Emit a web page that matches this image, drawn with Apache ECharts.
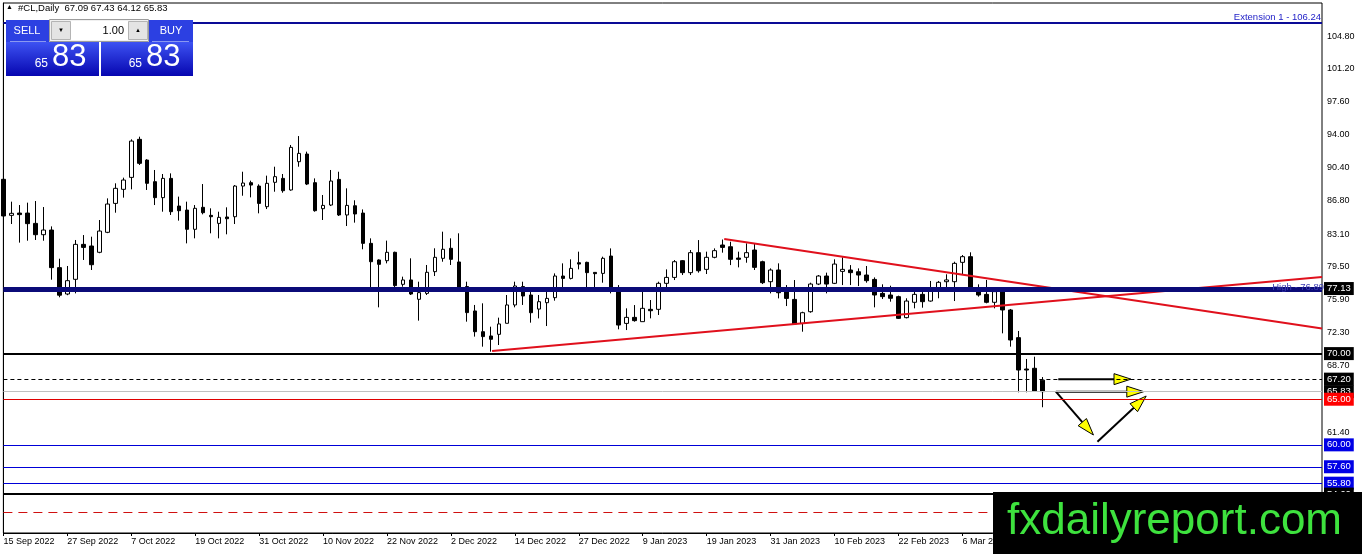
<!DOCTYPE html>
<html>
<head>
<meta charset="utf-8">
<script src="https://cdn.jsdelivr.net/npm/echarts@6/dist/echarts.min.js"></script>
<style>
    html, body { margin: 0; padding: 0; background: #fff; }
    #main { width: 1362px; height: 554px; }
</style>
</head>
<body>
<div id="main"></div>
<script>
    // trading days per month (26 Dec and 2 Jan have no bar)
    var sep22 = [15, 16, 19, 20, 21, 22, 23, 26, 27, 28, 29, 30];
    var oct22 = [3, 4, 5, 6, 7, 10, 11, 12, 13, 14, 17, 18, 19, 20, 21, 24, 25, 26, 27, 28, 31];
    var nov22 = [1, 2, 3, 4, 7, 8, 9, 10, 11, 14, 15, 16, 17, 18, 21, 22, 23, 24, 25, 28, 29, 30];
    var dec22 = [1, 2, 5, 6, 7, 8, 9, 12, 13, 14, 15, 16, 19, 20, 21, 22, 23, 27, 28, 29, 30];
    var jan23 = [3, 4, 5, 6, 9, 10, 11, 12, 13, 16, 17, 18, 19, 20, 23, 24, 25, 26, 27, 30, 31];
    var feb23 = [1, 2, 3, 6, 7, 8, 9, 10, 13, 14, 15, 16, 17, 20, 21, 22, 23, 24, 27, 28];
    var mar23 = [1, 2, 3, 6, 7, 8, 9, 10, 13, 14, 15, 16, 17, 20];

    var opens = [89.10, 85.15, 85.40, 85.40, 84.27, 83.03, 83.54, 79.42, 76.53, 78.14,
        81.97, 81.79, 81.10, 83.29, 86.46, 88.00, 89.31, 93.48, 91.21, 88.84,
        87.09, 89.20, 86.17, 85.73, 83.62, 86.03, 85.15, 84.27, 84.97, 85.00,
        88.36, 88.73, 88.36, 86.10, 88.77, 89.20, 87.93, 91.03, 91.87, 88.73,
        85.88, 86.28, 89.09, 85.19, 86.20, 85.40, 82.08, 80.26, 80.18, 81.10,
        77.59, 78.07, 75.95, 76.60, 78.98, 80.44, 81.54, 80.04, 77.34, 74.67,
        72.40, 71.93, 72.11, 73.32, 75.33, 77.34, 76.42, 74.88, 75.58, 76.13,
        78.50, 78.24, 79.96, 80.00, 78.90, 78.79, 80.69, 76.89, 73.31, 73.97,
        73.50, 74.85, 74.85, 77.70, 78.35, 80.18, 78.87, 81.06, 79.23, 80.55,
        81.90, 81.71, 80.47, 80.55, 81.35, 80.07, 77.88, 79.16, 76.89, 75.94,
        73.31, 74.59, 77.62, 78.50, 77.70, 79.01, 79.16, 78.97, 78.61, 78.13,
        76.60, 76.42, 76.24, 73.94, 75.62, 76.49, 75.76, 77.23, 77.88, 77.88,
        80.00, 80.62, 76.86, 76.49, 75.62, 76.79, 74.78, 71.75, 68.31, 68.39,
        67.09];
    var highs = [89.20, 86.65, 86.28, 86.54, 86.72, 86.06, 83.94, 80.40, 79.60, 82.45,
        82.99, 82.81, 84.64, 87.01, 88.66, 89.28, 93.48, 93.77, 91.30, 90.12,
        89.68, 89.75, 87.20, 86.65, 86.28, 88.58, 85.92, 85.55, 86.03, 88.47,
        89.93, 88.95, 88.55, 89.50, 90.48, 89.68, 92.86, 93.84, 92.13, 89.20,
        87.38, 90.12, 89.93, 88.11, 86.80, 85.80, 82.63, 80.33, 82.38, 81.17,
        78.43, 80.44, 77.88, 79.71, 81.54, 83.36, 82.63, 83.18, 77.88, 75.33,
        75.51, 72.95, 73.94, 76.42, 77.88, 77.88, 76.78, 76.42, 76.78, 78.79,
        79.89, 80.33, 81.17, 80.07, 78.90, 80.62, 81.53, 77.51, 74.96, 75.32,
        76.78, 75.87, 77.88, 79.23, 80.25, 80.25, 81.35, 82.44, 81.17, 81.53,
        82.50, 82.26, 81.17, 82.08, 82.08, 80.18, 79.34, 79.89, 77.51, 78.06,
        74.59, 77.77, 78.61, 78.87, 80.33, 80.55, 79.70, 79.34, 79.60, 78.35,
        77.59, 77.44, 76.35, 76.06, 76.79, 76.79, 77.96, 77.96, 78.69, 80.07,
        80.80, 81.10, 77.59, 78.07, 76.79, 76.97, 74.89, 72.48, 69.41, 69.66,
        67.43];
    var lows = [84.70, 84.20, 82.16, 82.37, 82.45, 82.37, 78.10, 76.17, 76.40, 76.60,
        80.26, 79.16, 81.00, 83.20, 85.44, 87.09, 88.00, 90.67, 87.93, 86.28,
        85.55, 85.19, 84.57, 82.08, 82.63, 85.26, 83.18, 82.63, 83.07, 84.20,
        87.30, 87.12, 85.37, 85.84, 87.74, 87.63, 87.85, 90.48, 88.47, 85.55,
        84.64, 86.17, 85.08, 83.98, 84.35, 81.43, 77.15, 75.07, 79.89, 76.86,
        77.33, 76.42, 73.61, 76.42, 78.50, 80.07, 79.71, 76.79, 73.50, 71.86,
        70.76, 70.21, 70.94, 73.32, 75.07, 75.33, 73.39, 73.86, 73.02, 75.80,
        77.15, 78.13, 79.23, 77.26, 76.78, 77.77, 76.60, 72.66, 72.58, 73.50,
        73.50, 73.86, 74.23, 77.26, 78.06, 78.61, 78.61, 78.87, 78.72, 80.44,
        81.06, 79.70, 79.45, 79.96, 79.16, 77.62, 76.60, 76.05, 75.21, 73.15,
        72.40, 74.48, 77.51, 76.60, 77.62, 77.51, 77.51, 77.40, 77.77, 75.07,
        75.98, 75.69, 73.79, 73.86, 74.96, 75.03, 75.69, 76.06, 77.15, 75.76,
        78.61, 77.15, 76.24, 75.51, 74.96, 72.22, 70.76, 65.76, 65.76, 65.83,
        64.12];
    var closes = [85.08, 85.37, 85.23, 84.24, 83.03, 83.54, 79.42, 76.40, 77.99, 81.97,
        81.64, 79.74, 83.43, 86.39, 88.11, 89.02, 93.29, 90.85, 88.66, 87.09,
        89.20, 85.55, 85.66, 83.62, 85.92, 85.44, 85.00, 84.93, 84.78, 88.36,
        88.69, 88.47, 86.46, 88.66, 89.39, 87.85, 92.60, 91.94, 88.58, 85.66,
        86.24, 88.91, 85.19, 86.24, 85.30, 82.08, 80.07, 79.78, 81.10, 77.45,
        78.07, 76.53, 76.68, 78.91, 80.55, 81.43, 80.33, 76.90, 74.49, 72.40,
        71.86, 71.57, 73.25, 75.33, 77.41, 76.31, 74.48, 75.69, 76.05, 78.50,
        78.24, 79.34, 79.81, 78.87, 78.76, 80.44, 77.26, 73.13, 73.97, 73.61,
        74.96, 74.70, 77.70, 78.35, 80.07, 78.87, 81.06, 79.08, 80.55, 81.28,
        81.64, 80.33, 80.33, 81.06, 79.45, 77.77, 79.16, 76.67, 76.05, 73.24,
        74.48, 77.62, 78.50, 77.62, 79.81, 79.23, 78.87, 78.61, 77.99, 76.42,
        76.24, 76.06, 73.86, 75.76, 76.49, 75.69, 76.86, 77.81, 78.07, 79.89,
        80.62, 77.23, 76.42, 75.62, 76.79, 74.78, 71.49, 68.20, 68.20, 65.90,
        65.83];

    // price axis labels as the terminal shows them
    var yTicks = [104.80, 101.20, 97.60, 94.00, 90.40, 86.80, 83.10, 79.50, 75.90, 72.30, 68.70, 61.40];

    // horizontal levels
    var levelPrices = [106.24, 77.13, 76.89, 70.00, 67.20, 65.83, 65.00, 60.00, 57.60, 55.80, 54.60, 52.65];

    // trend lines [barIndex, price]
    var supportLine = [[61.15, 70.28], [165, 78.40]];
    var resistLine = [[90.2, 82.56], [165, 72.76]];

    // arrows [fromBar, fromPrice, toBar, toPrice]
    var arrows = [
        [132.0, 67.20, 141.1, 67.20],
        [131.7, 65.83, 142.7, 65.83],
        [131.7, 65.83, 136.4, 61.08],
        [136.9, 60.34, 143.0, 65.35]
    ];

    var monthNames = ['Sep 2022', 'Oct 2022', 'Nov 2022', 'Dec 2022', 'Jan 2023', 'Feb 2023', 'Mar 2023'];
    var monthDays = [sep22, oct22, nov22, dec22, jan23, feb23, mar23];
    var categories = [];
    monthDays.forEach(function (days, m) {
        days.forEach(function (d) { categories.push(d + ' ' + monthNames[m]); });
    });
    var slots = 166;
    while (categories.length < slots) categories.push('');

    var candles = opens.map(function (o, i) {
        return [o, closes[i], lows[i], highs[i]];
    });

    var FONT = '"Liberation Sans", Arial, sans-serif';

    function boxLabel(bg) {
        return {
            show: true, position: 'end', distance: 2,
            formatter: function (p) { return p.value.toFixed(2); },
            color: '#fff', backgroundColor: bg, padding: [2, 3, 1, 3],
            fontSize: 9.5, fontFamily: FONT, lineHeight: 10
        };
    }
    var levelStyles = [
        { line: { color: '#0a0a96', width: 2, type: 'solid' },
          label: { show: true, position: 'insideEndTop', distance: 1, formatter: 'Extension 1 - 106.24',
                   color: '#2323c8', fontSize: 9.5, fontFamily: FONT } },
        { line: { color: '#0b0b78', width: 3, type: 'solid' }, label: boxLabel('#000') },
        { line: { color: '#0b0b78', width: 3, type: 'solid' },
          label: { show: true, position: 'insideEndTop', distance: -2, formatter: 'High - 76.89',
                   color: '#3c3cb4', fontSize: 9.5, fontFamily: FONT } },
        { line: { color: '#000', width: 2, type: 'solid' }, label: boxLabel('#000') },
        { line: { color: '#000', width: 1, type: [4, 3] }, label: boxLabel('#000') },
        { line: { color: '#c0c0c0', width: 1, type: 'solid' }, label: boxLabel('#000') },
        { line: { color: '#e00000', width: 1.2, type: 'solid' }, label: boxLabel('#ff0000') },
        { line: { color: '#0000d8', width: 1.2, type: 'solid' }, label: boxLabel('#0000e6') },
        { line: { color: '#0000d8', width: 1.2, type: 'solid' }, label: boxLabel('#0000e6') },
        { line: { color: '#0000d8', width: 1.2, type: 'solid' }, label: boxLabel('#0000e6') },
        { line: { color: '#000', width: 2, type: 'solid' }, label: boxLabel('#000') },
        { line: { color: '#d01010', width: 1, type: [9, 6] }, label: { show: false } }
    ];

    var chart = echarts.init(document.getElementById('main'));

    function blueGrad() {
        return new echarts.graphic.LinearGradient(0, 0, 0, 1, [
            { offset: 0, color: '#3d52f2' }, { offset: 1, color: '#0606b0' }
        ]);
    }

    var panel = [
        // header
        { type: 'text', x: 6, y: 4, style: { text: '\u25B2', fill: '#000', font: '7px ' + FONT } },
        { type: 'text', x: 18, y: 3, style: { text: '#CL,Daily  67.09 67.43 64.12 65.83', fill: '#000', font: '9.5px ' + FONT } },
        // sell / buy headers
        { type: 'rect', shape: { x: 6, y: 20, width: 43, height: 22 }, style: { fill: '#2c40e2' } },
        { type: 'line', shape: { x1: 10, y1: 41.5, x2: 46, y2: 41.5 }, style: { stroke: '#8a98f0', lineWidth: 1 } },
        { type: 'text', x: 27, y: 31, style: { text: 'SELL', fill: '#fff', font: '11px ' + FONT, align: 'center', verticalAlign: 'middle' } },
        { type: 'rect', shape: { x: 149, y: 20, width: 44, height: 22 }, style: { fill: '#2c40e2' } },
        { type: 'line', shape: { x1: 152, y1: 41.5, x2: 189, y2: 41.5 }, style: { stroke: '#8a98f0', lineWidth: 1 } },
        { type: 'text', x: 171, y: 31, style: { text: 'BUY', fill: '#fff', font: '11px ' + FONT, align: 'center', verticalAlign: 'middle' } },
        // lot control
        { type: 'rect', shape: { x: 49.5, y: 19.5, width: 99, height: 22 }, style: { fill: '#f0f0f0', stroke: '#9c9c9c', lineWidth: 1 } },
        { type: 'rect', shape: { x: 51.5, y: 21.5, width: 19, height: 18 }, style: { fill: '#e4e4e4', stroke: '#b4b4b4', lineWidth: 1 } },
        { type: 'text', x: 61, y: 30.5, style: { text: '\u25BC', fill: '#000', font: '6px ' + FONT, align: 'center', verticalAlign: 'middle' } },
        { type: 'rect', shape: { x: 71, y: 21, width: 57, height: 19 }, style: { fill: '#fff' } },
        { type: 'text', x: 124, y: 30.5, style: { text: '1.00', fill: '#000', font: '11px ' + FONT, align: 'right', verticalAlign: 'middle' } },
        { type: 'rect', shape: { x: 128.5, y: 21.5, width: 19, height: 18 }, style: { fill: '#e4e4e4', stroke: '#b4b4b4', lineWidth: 1 } },
        { type: 'text', x: 138, y: 30.5, style: { text: '\u25B2', fill: '#000', font: '6px ' + FONT, align: 'center', verticalAlign: 'middle' } },
        // price boxes
        { type: 'rect', shape: { x: 6, y: 42, width: 93, height: 34 }, style: { fill: blueGrad() } },
        { type: 'rect', shape: { x: 101, y: 42, width: 92, height: 34 }, style: { fill: blueGrad() } },
        { type: 'text', x: 48, y: 70, style: { text: '65', fill: '#fff', font: '12px ' + FONT, align: 'right', verticalAlign: 'bottom' } },
        { type: 'text', x: 52, y: 73, style: { text: '83', fill: '#fff', font: '31px ' + FONT, align: 'left', verticalAlign: 'bottom' } },
        { type: 'text', x: 142, y: 70, style: { text: '65', fill: '#fff', font: '12px ' + FONT, align: 'right', verticalAlign: 'bottom' } },
        { type: 'text', x: 146, y: 73, style: { text: '83', fill: '#fff', font: '31px ' + FONT, align: 'left', verticalAlign: 'bottom' } },
        // watermark
        { type: 'rect', shape: { x: 993, y: 492, width: 369, height: 62 }, style: { fill: '#000' } },
        { type: 'text', x: 1007, y: 522, style: { text: 'fxdailyreport.com', fill: '#3ee23e', font: '44px ' + FONT, verticalAlign: 'middle' } }
    ];
    panel.forEach(function (g) { g.z = 100; g.silent = true; });

    var option = {
        animation: false,
        backgroundColor: '#fff',
        textStyle: { fontFamily: FONT },
        grid: {
            left: 3.4, top: 3, right: 40, bottom: 21,
            show: true, borderColor: '#000', borderWidth: 1, backgroundColor: 'transparent'
        },
        xAxis: [{
            type: 'category',
            data: categories,
            boundaryGap: false,
            axisLine: { lineStyle: { color: '#000', width: 1 } },
            axisTick: { interval: 7, length: 3, lineStyle: { color: '#000' } },
            axisLabel: { interval: 7, align: 'left', margin: 4, color: '#000', fontSize: 9, fontFamily: FONT },
            splitLine: { show: false }
        }, {
            type: 'value', min: 0, max: slots - 1, show: false
        }],
        yAxis: {
            type: 'value',
            position: 'right',
            min: 50.34,
            max: 108.42,
            axisLine: { show: true, lineStyle: { color: '#000', width: 1 } },
            axisTick: { show: false },
            axisLabel: {
                color: '#000', fontSize: 9, fontFamily: FONT, margin: 5,
                customValues: yTicks,
                formatter: function (v) { return v.toFixed(2); }
            },
            splitLine: { show: false }
        },
        series: [{
            type: 'candlestick',
            data: candles,
            barWidth: 4,
            silent: true,
            itemStyle: {
                color: '#fff', color0: '#000',
                borderColor: '#000', borderColor0: '#000', borderWidth: 1
            },
            markLine: {
                silent: true,
                symbol: ['none', 'none'],
                animation: false,
                data: levelPrices.map(function (v, i) {
                    return { yAxis: v, lineStyle: levelStyles[i].line, label: levelStyles[i].label };
                })
            }
        }, {
            type: 'line', xAxisIndex: 1, data: supportLine, symbol: 'none', silent: true,
            lineStyle: { color: '#e0101c', width: 2 }
        }, {
            type: 'line', xAxisIndex: 1, data: resistLine, symbol: 'none', silent: true,
            lineStyle: { color: '#e0101c', width: 2 }
        }, {
            type: 'custom', xAxisIndex: 1, silent: true,
            data: arrows,
            encode: { x: [0, 2], y: [1, 3] },
            renderItem: function (params, api) {
                var p1 = api.coord([api.value(0), api.value(1)]);
                var p2 = api.coord([api.value(2), api.value(3)]);
                var dx = p2[0] - p1[0], dy = p2[1] - p1[1];
                var len = Math.sqrt(dx * dx + dy * dy);
                var ux = dx / len, uy = dy / len;
                var headLen = 17, half = 5.5;
                var bx = p2[0] - ux * headLen, by = p2[1] - uy * headLen;
                return {
                    type: 'group',
                    children: [{
                        type: 'line',
                        shape: { x1: p1[0], y1: p1[1], x2: bx, y2: by },
                        style: { stroke: '#000', lineWidth: 2 }
                    }, {
                        type: 'polygon',
                        shape: { points: [[p2[0], p2[1]], [bx - uy * half, by + ux * half], [bx + uy * half, by - ux * half]] },
                        style: { fill: '#ffff00', stroke: '#000', lineWidth: 1 }
                    }]
                };
            }
        }],
        graphic: panel
    };
    chart.setOption(option);
</script>
</body>
</html>
